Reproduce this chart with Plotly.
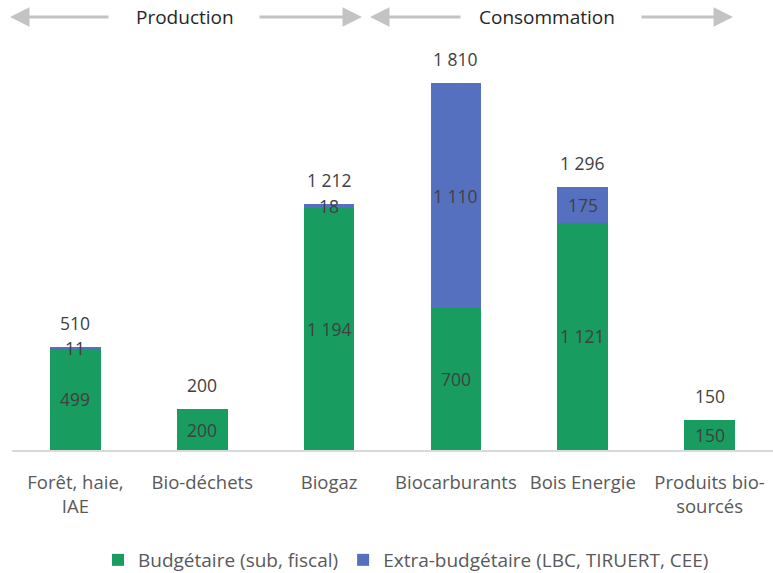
import plotly.graph_objects as go

categories = ["Forêt, haie,<br>IAE", "Bio-déchets", "Biogaz", "Biocarburants",
              "Bois Energie", "Produits bio-<br>sourcés"]
budgetaire = [499, 200, 1194, 700, 1121, 150]
extra_budgetaire = [11, 0, 18, 1110, 175, 0]
totals = [b + e for b, e in zip(budgetaire, extra_budgetaire)]

GREEN = "#189c60"
BLUE = "#5670c0"
LABEL_COLOR = "#404040"
AXIS_TEXT = "#595959"
ARROW = "#c3c3c3"
FONT = "Open Sans, Noto Sans, sans-serif"

W, H = 773.0, 573.0
M_TOP, M_BOTTOM, M_LEFT, M_RIGHT = 40, 123, 12, 0
PLOT_H = H - M_TOP - M_BOTTOM
PLOT_W = W - M_LEFT - M_RIGHT


def fmt(v):
    return f"{v:,}".replace(",", " ")


def paper_y(px):
    return 1 + (M_TOP - px) / PLOT_H


def paper_x(px):
    return (px - M_LEFT) / PLOT_W


fig = go.Figure()
fig.add_trace(go.Bar(x=categories, y=budgetaire, name="Budgétaire (sub, fiscal)",
                     marker=dict(color=GREEN, line=dict(width=0))))
fig.add_trace(go.Bar(x=categories, y=extra_budgetaire,
                     name="Extra-budgétaire (LBC, TIRUERT, CEE)",
                     marker=dict(color=BLUE, line=dict(width=0))))

value_font = dict(family=FONT, size=17.5, color=LABEL_COLOR)
annotations = []
for cat, b, e, t in zip(categories, budgetaire, extra_budgetaire, totals):
    annotations.append(dict(x=cat, y=b / 2, text=fmt(b), showarrow=False,
                            font=value_font, xref="x", yref="y"))
    if e > 0:
        annotations.append(dict(x=cat, y=b + e / 2, text=fmt(e), showarrow=False,
                                font=value_font, xref="x", yref="y"))
    annotations.append(dict(x=cat, y=t, text=fmt(t), showarrow=False, font=value_font,
                            xref="x", yref="y", yanchor="bottom", yshift=10))

# Section headers flanked by grey arrows
head_font = dict(family=FONT, size=19, color="#262626")
sections = [("Production", 185, 10, 110, 258, 362),
            ("Consommation", 547, 370, 462, 640, 733)]
HEAD_Y = 17
for text, cx, l_head, l_tail, r_tail, r_head in sections:
    annotations.append(dict(x=paper_x(cx), y=paper_y(HEAD_Y), xref="paper", yref="paper",
                            text=text, showarrow=False, font=head_font,
                            xanchor="center", yanchor="middle"))
    annotations.append(dict(x=paper_x(l_head), y=paper_y(HEAD_Y), xref="paper",
                            yref="paper", text="", showarrow=True, ax=l_tail - l_head,
                            ay=0, arrowhead=2, arrowsize=1.3, arrowwidth=3,
                            arrowcolor=ARROW))
    annotations.append(dict(x=paper_x(r_head), y=paper_y(HEAD_Y), xref="paper",
                            yref="paper", text="", showarrow=True, ax=r_tail - r_head,
                            ay=0, arrowhead=2, arrowsize=1.3, arrowwidth=3,
                            arrowcolor=ARROW))

fig.update_layout(
    barmode="stack",
    bargap=0.6,
    width=773, height=573,
    margin=dict(l=M_LEFT, r=M_RIGHT, t=M_TOP, b=M_BOTTOM),
    paper_bgcolor="white", plot_bgcolor="white",
    showlegend=True,
    legend=dict(orientation="h", x=406 / W, xanchor="center", xref="container",
                y=1 - 560 / H, yanchor="middle", yref="container",
                font=dict(family=FONT, size=19, color=AXIS_TEXT),
                itemwidth=30, traceorder="normal"),
    xaxis=dict(showline=True, linecolor="#d9d9d9", linewidth=1.5, ticks="",
               ticklabelstandoff=15, automargin=False,
               tickfont=dict(family=FONT, size=18.5, color=AXIS_TEXT)),
    yaxis=dict(range=[0, 2022], visible=False, showgrid=False),
    annotations=annotations,
)

fig.write_html("out.html")
